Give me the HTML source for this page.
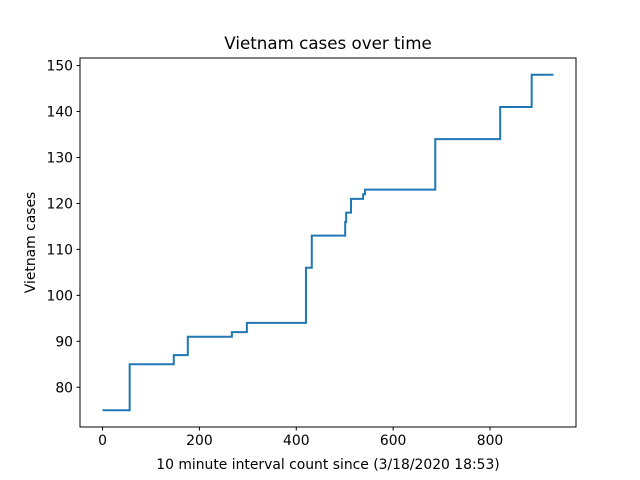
<!DOCTYPE html>
<html><head><meta charset="utf-8"><style>body{margin:0;background:#fff}svg{display:block;font-family:"DejaVu Sans","Liberation Sans",sans-serif}</style></head>
<body>
<svg id="chart" width="640" height="480">
<rect width="640" height="480" fill="#fff"/>
<text x="328" y="49" text-anchor="middle" font-size="16.7">Vietnam cases over time</text>
<g id="ax"></g>
<rect x="80" y="58" width="496" height="369" fill="none" stroke="#000" stroke-width="1"/>
<text x="328" y="469" text-anchor="middle" font-size="13.9">10 minute interval count since (3/18/2020 18:53)</text>
<text transform="translate(35,242.5) rotate(-90)" text-anchor="middle" font-size="13.9">Vietnam cases</text>
</svg>
<script>
const stepX = [0, 56, 147, 176, 267, 298, 420, 432, 501, 503, 505, 513, 538, 542, 687, 821, 886, 931];
const stepY = [75, 85, 87, 91, 92, 94, 106, 113, 116, 118, 118, 121, 122, 123, 134, 141, 148, 148];
const xTicks = [0, 200, 400, 600, 800];
const yTicks = [80, 90, 100, 110, 120, 130, 140, 150];
const NS = "http://www.w3.org/2000/svg";
const x0 = 80, x1 = 576, y0 = 427, y1 = 58;
const xMin = -46.55, xMax = 977.55, yMin = 71.35, yMax = 151.65;
const sx = v => x0 + (v - xMin) / (xMax - xMin) * (x1 - x0);
const sy = v => y0 - (v - yMin) / (yMax - yMin) * (y0 - y1);
const g = document.getElementById('ax');
function mk(t, a) { const e = document.createElementNS(NS, t); for (const k in a) e.setAttribute(k, a[k]); g.appendChild(e); return e; }
xTicks.forEach(v => {
  const l = mk('line', {x1: sx(v), x2: sx(v), y1: y0, y2: y0 + 3.5, stroke: '#000'});
  
  
  const t = mk('text', {x: sx(v), y: y0 + 18, 'text-anchor': 'middle', 'font-size': 13.9});
  t.textContent = v;
  
  
});
yTicks.forEach(v => {
  const l = mk('line', {x1: x0 - 3.5, x2: x0, y1: sy(v), y2: sy(v), stroke: '#000'});
  
  
  const t = mk('text', {x: x0 - 7, y: sy(v) + 5, 'text-anchor': 'end', 'font-size': 13.9});
  t.textContent = v;
  
  
});
let d = '';
for (let i = 0; i < stepX.length; i++) {
  if (i === 0) d += 'M' + sx(stepX[0]) + ' ' + sy(stepY[0]);
  else d += ' L' + sx(stepX[i]) + ' ' + sy(stepY[i - 1]) + ' L' + sx(stepX[i]) + ' ' + sy(stepY[i]);
}
const p = mk('path', {d: d, fill: 'none', stroke: '#1f77b4', 'stroke-width': 2});


</script>
</body></html>
